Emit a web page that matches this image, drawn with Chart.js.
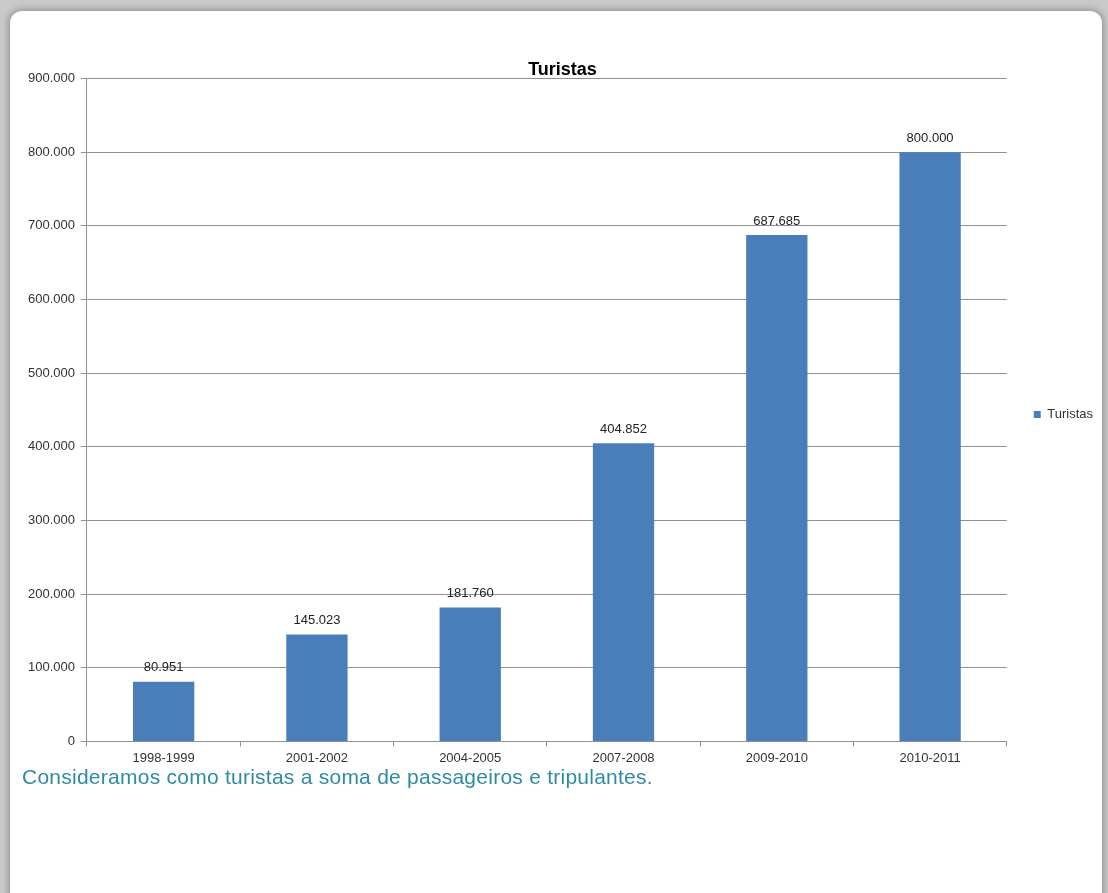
<!DOCTYPE html>
<html>
<head>
<meta charset="utf-8">
<script src="https://cdn.jsdelivr.net/npm/chart.js"></script>
<style>
  html, body { margin: 0; padding: 0; }
  body { width: 1108px; height: 893px; background: #c9c9c9; overflow: hidden; position: relative; }
  #panel {
    position: absolute; left: 10px; top: 11px; width: 1092px; height: 900px;
    background: #fff; border-radius: 12px 12px 0 0;
    box-shadow: 0 0 6px 2px rgba(0,0,0,0.25);
  }
  #wrap { position: absolute; left: 0; top: 0; width: 1108px; height: 778px; }
  #note {
    position: absolute; left: 22px; top: 765px;
    font-family: "Liberation Sans", Arial, sans-serif; font-size: 21px;
    letter-spacing: 0.25px;
    color: #2f8aa6;
  }
</style>
</head>
<body>
<div id="panel"></div>
<div id="wrap"><canvas id="chart"></canvas></div>
<div id="note">Consideramos como turistas a soma de passageiros e tripulantes.</div>
<script>
// chart data
const periods = ['1998-1999', '2001-2002', '2004-2005', '2007-2008', '2009-2010', '2010-2011'];
const turistas = [80951, 145023, 181760, 404852, 687685, 800000];
const yTicks = [0, 100000, 200000, 300000, 400000, 500000, 600000, 700000, 800000, 900000];

// 900000 -> "900.000"
function fmt(v) {
    return String(v).replace(/\B(?=(\d{3})+(?!\d))/g, '.');
}

const fontFamily = '"Liberation Sans", Arial, sans-serif';

// draws the value above each bar
const valueLabels = {
    id: 'valueLabels',
    afterDatasetsDraw(chart) {
        const ctx = chart.ctx;
        const meta = chart.getDatasetMeta(0);
        ctx.save();
        ctx.font = '13px ' + fontFamily;
        ctx.fillStyle = '#222';
        ctx.textAlign = 'center';
        ctx.textBaseline = 'middle';
        meta.data.forEach((bar, i) => {
            ctx.fillText(fmt(turistas[i]), bar.x, bar.y - 14);
        });
        ctx.restore();
    }
};

const ctx = document.getElementById('chart').getContext('2d');
new Chart(ctx, {
    type: 'bar',
    data: {
        labels: periods,
        datasets: [{
            label: 'Turistas',
            data: turistas,
            backgroundColor: '#4a7ebb',
            borderWidth: 0,
            barPercentage: 0.4,
            categoryPercentage: 1
        }]
    },
    options: {
        responsive: true,
        maintainAspectRatio: false,
        animation: false,
        events: [],
        layout: { padding: { left: 22, right: 5, top: 59, bottom: 8 } },
        plugins: {
            title: {
                display: true,
                text: 'Turistas',
                color: '#000',
                font: { family: fontFamily, size: 18, weight: 'bold' },
                padding: { top: 0, bottom: -2 }
            },
            legend: {
                position: 'right',
                labels: {
                    boxWidth: 7, boxHeight: 7,
                    color: '#333',
                    font: { family: fontFamily, size: 13 },
                    padding: 27
                }
            },
            tooltip: { enabled: false }
        },
        scales: {
            y: {
                min: 0,
                max: 900000,
                afterBuildTicks(axis) {
                    axis.ticks = yTicks.map(v => ({ value: v }));
                },
                ticks: {
                    color: '#333',
                    font: { family: fontFamily, size: 13 },
                    padding: 6,
                    callback: v => fmt(v)
                },
                grid: { color: '#909090', tickLength: 6 },
                border: { color: '#909090' }
            },
            x: {
                ticks: {
                    color: '#333',
                    font: { family: fontFamily, size: 13 },
                    padding: 4
                },
                grid: { offset: true, drawOnChartArea: false, color: '#909090', tickLength: 5 },
                border: { color: '#909090' }
            }
        }
    },
    plugins: [valueLabels]
});
</script>
</body>
</html>
